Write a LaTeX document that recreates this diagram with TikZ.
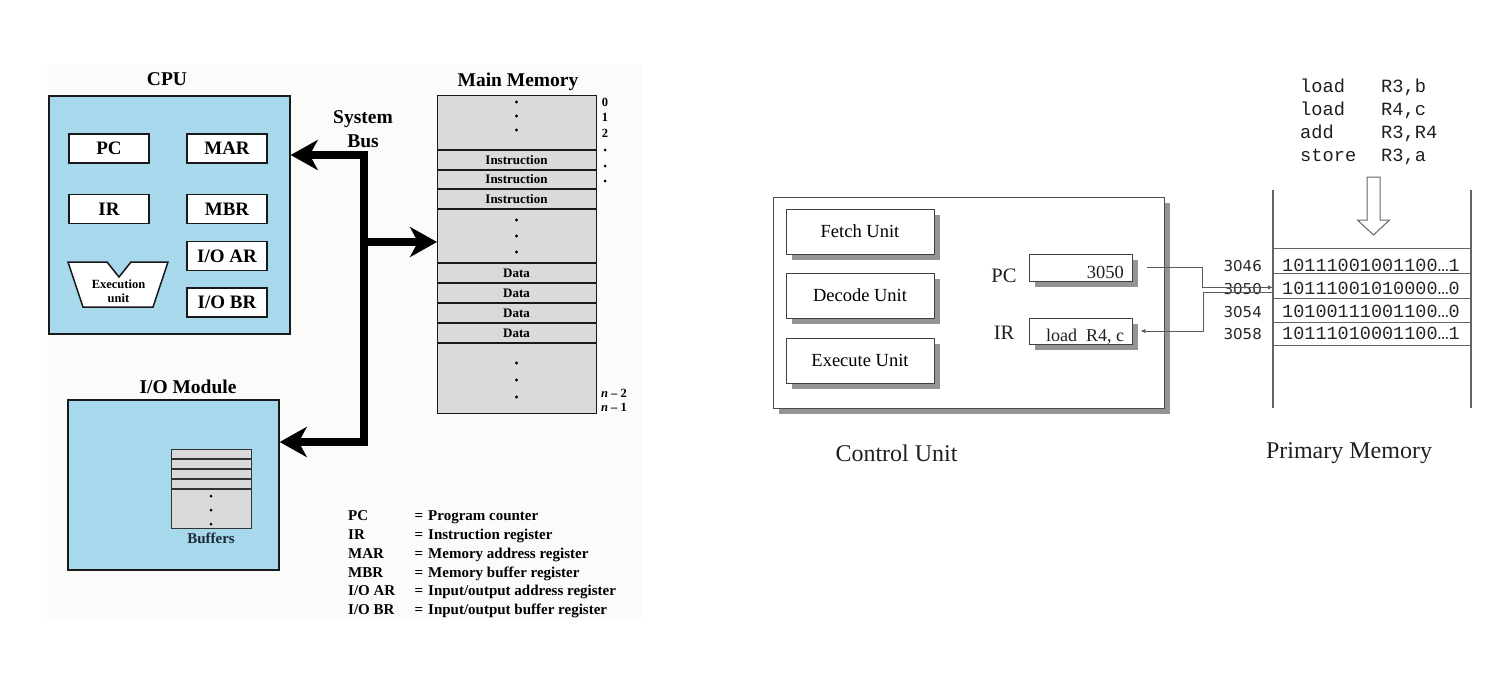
\documentclass[tikz,border=0pt]{standalone}
\usepackage{fontspec}
\setmainfont{Liberation Serif}
\newfontfamily\codefont{Liberation Mono}
\newfontfamily\addrfont{DejaVu Sans}
\usetikzlibrary{arrows.meta,shadows}
\definecolor{cpublue}{RGB}{168,216,236}
\definecolor{memgray}{RGB}{218,218,218}
\definecolor{panelbg}{RGB}{251,251,249}
\definecolor{lineg}{RGB}{100,100,100}
\definecolor{bufink}{RGB}{30,40,55}
\begin{document}
\begin{tikzpicture}[x=1pt,y=-1pt,
  title/.style={font=\fontsize{19.5}{24}\selectfont\bfseries, inner sep=0pt},
  reg/.style={draw=black!90, line width=1.3pt, fill=white, minimum width=80pt, minimum height=29pt, inner sep=0pt, font=\fontsize{19}{22}\selectfont\bfseries},
  cell/.style={font=\fontsize{13}{15}\selectfont\bfseries, inner sep=0pt},
  addr/.style={font=\fontsize{12.5}{14}\selectfont\bfseries, inner sep=0pt},
  dotf/.style={fill=black, draw=none, circle, inner sep=0pt, minimum size=3.4pt},
  bus/.style={line width=8pt, line join=miter, draw=black},
  leg/.style={font=\fontsize{15}{18}\selectfont\bfseries, inner sep=0pt, anchor=base west},
  shadowed/.style={drop shadow={shadow xshift=6pt, shadow yshift=-6pt, fill=black!42, opacity=1}},
  unitbox/.style={draw=black!75, line width=0.9pt, fill=white, minimum width=148pt, minimum height=45pt, inner sep=0pt, font=\fontsize{18.5}{22}\selectfont, shadowed},
  regbox/.style={draw=black!75, line width=0.9pt, fill=white, minimum width=103pt, inner sep=0pt, shadowed},
  rtext/.style={font=\fontsize{18.5}{22}\selectfont, inner sep=0pt, text=black!88},
  conn/.style={draw=black!65, line width=1pt},
  tipc/.style={-{Latex[length=5pt,width=4.5pt]}},
  memrow/.style={draw=lineg, line width=1.2pt, minimum width=198pt, inner sep=0pt, anchor=north west},
  bin/.style={font=\codefont\fontsize{18.5}{22}\selectfont, inner sep=0pt, anchor=base west, text=black!85},
  adr/.style={font=\addrfont\fontsize{15}{18}\selectfont, inner sep=0pt, anchor=base east, text=black!85},
  code/.style={font=\codefont\fontsize{18.7}{22}\selectfont, inner sep=0pt, anchor=base west, text=black!88}
]
\fill[white] (0,0) rectangle (1497,697);
\useasboundingbox (0,0) rectangle (1497,697);
\fill[panelbg] (47,65) rectangle (642,620);

% ---------------- CPU ----------------
\node[draw=black!90, line width=1.7pt, fill=cpublue, minimum width=241pt, minimum height=238pt, inner sep=0pt, anchor=north west] (cpu) at (48,95) {};
\node[title, anchor=base] (cpulbl) at (167,85) {CPU};
\node[reg] (pc) at (109,148.5) {PC};
\node[reg] (mar) at (227,148.5) {MAR};
\node[reg] (ir) at (109,209) {IR};
\node[reg] (mbr) at (227,209) {MBR};
\node[reg] (ioar) at (227,256) {I/O AR};
\node[reg] (iobr) at (227,302.5) {I/O BR};
\draw[draw=black!90, line width=1.5pt, fill=white, line join=miter]
  (68,262) -- (107,262) -- (119,277) -- (131,262) -- (168,262) -- (153,307) -- (83,307) -- cycle;
\node[font=\fontsize{12.5}{14}\selectfont\bfseries, inner sep=0pt, anchor=base] (exu1) at (118.5,288) {Execution};
\node[font=\fontsize{12.5}{14}\selectfont\bfseries, inner sep=0pt, anchor=base] (exu2) at (118.5,302) {unit};

% ---------------- Main memory ----------------
\node[title, anchor=base] (memlbl) at (518,86.5) {Main Memory};
\node[draw=black!90, line width=1.3pt, fill=memgray, minimum width=159pt, minimum height=318pt, inner sep=0pt, anchor=north west] (mem) at (437,95) {};
\foreach \yy in {150,170,189,209,263,283,303,323,343}
  \draw[line width=1.3pt, draw=black!90] (437,\yy) -- (596,\yy);
\node[cell] (i1) at (516.5,160) {Instruction};
\node[cell] (i2) at (516.5,179.5) {Instruction};
\node[cell] (i3) at (516.5,199) {Instruction};
\node[cell] (d1) at (516.5,273) {Data};
\node[cell] (d2) at (516.5,293) {Data};
\node[cell] (d3) at (516.5,313) {Data};
\node[cell] (d4) at (516.5,333) {Data};
\foreach \yy in {102,116,130,220,236,252,363,380,397}
  \node[dotf] at (516.5,\yy) {};
\node[addr] (a0) at (605,102) {0};
\node[addr] (a1) at (605,117) {1};
\node[addr] (a2) at (605,133) {2};
\foreach \yy in {150,166,181}
  \node[dotf, minimum size=3pt] at (605,\yy) {};
\node[addr] (an2) at (614,393) {\textit{n} – 2};
\node[addr] (an1) at (614,407.5) {\textit{n} – 1};

% ---------------- I/O module ----------------
\node[title, anchor=base] (iolbl) at (188,393) {I/O Module};
\node[draw=black!90, line width=1.7pt, fill=cpublue, minimum width=211pt, minimum height=170pt, inner sep=0pt, anchor=north west] (io) at (67,399) {};
\node[draw=black!80, line width=1.2pt, fill=memgray, minimum width=80pt, minimum height=79pt, inner sep=0pt, anchor=north west] (buf) at (171,449) {};
\foreach \yy in {459,469,479,489}
  \draw[line width=1.2pt, draw=black!80] (171,\yy) -- (251,\yy);
\foreach \yy in {496,510,524}
  \node[dotf, minimum size=3pt] at (211,\yy) {};
\node[font=\fontsize{15}{18}\selectfont\bfseries, inner sep=0pt, anchor=base, text=bufink] (buflbl) at (211,543) {Buffers};

% ---------------- System bus ----------------
\node[title, align=center] (buslbl) at (363,129) {System\\Bus};
\coordinate (bt) at (364,155);
\coordinate (bm) at (364,242);
\coordinate (bb) at (364,442);
\draw[bus, {Stealth[length=27pt,width=30pt,inset=8pt]}-{Stealth[length=27pt,width=30pt,inset=8pt]}]
  (io.east |- bb) -- (bb) -- (bt) -- (cpu.east |- bt);
\draw[bus, -{Stealth[length=27pt,width=30pt,inset=8pt]}] (bm) -- (mem.west |- bm);

% ---------------- Legend ----------------
\node[leg] (lk1) at (348,520) {PC};
\node[leg] (lk2) at (348,539) {IR};
\node[leg] (lk3) at (348,558) {MAR};
\node[leg] (lk4) at (348,577) {MBR};
\node[leg] (lk5) at (348,595.5) {I/O AR};
\node[leg] (lk6) at (348,614) {I/O BR};
\foreach \yy/\nm in {520/e1,539/e2,558/e3,577/e4,595.5/e5,614/e6}
  \node[leg, anchor=base] (\nm) at (419,\yy) {=};
\node[leg] (lv1) at (428,520) {Program counter};
\node[leg] (lv2) at (428,539) {Instruction register};
\node[leg] (lv3) at (428,558) {Memory address register};
\node[leg] (lv4) at (428,577) {Memory buffer register};
\node[leg] (lv5) at (428,595.5) {Input/output address register};
\node[leg] (lv6) at (428,614) {Input/output buffer register};

% ---------------- Control unit ----------------
\node[draw=black!70, line width=0.9pt, fill=white, minimum width=391pt, minimum height=211pt, inner sep=0pt, shadowed] (cu) at (968.5,302.5) {};
\node[unitbox] (fetch) at (860,231.5) {Fetch Unit};
\node[unitbox] (decode) at (860,295.5) {Decode Unit};
\node[unitbox] (exec) at (860,360.5) {Execute Unit};
\node[font=\fontsize{20.5}{24}\selectfont, inner sep=0pt, anchor=base, text=black!88] (pclbl) at (1004,282) {PC};
\node[font=\fontsize{20.5}{24}\selectfont, inner sep=0pt, anchor=base, text=black!88] (irlbl) at (1004,339) {IR};
\node[regbox, minimum height=27pt] (pcbox) at (1080.5,267.5) {};
\node[regbox, minimum height=26pt] (irbox) at (1080.5,331) {};
\node[rtext, anchor=base east] (pcval) at (1124,278) {3050};
\node[rtext, anchor=base, font=\fontsize{18}{22}\selectfont] (irval) at (1085,341) {load\ \ R4, c};
\node[font=\fontsize{24}{28}\selectfont, inner sep=0pt, anchor=base, text=black!88] (cutitle) at (896.5,461) {Control Unit};

% ---------------- Primary memory ----------------
\draw[draw=lineg, line width=1.2pt] (1273,190) -- (1273,408);
\draw[draw=lineg, line width=1.2pt] (1471,190) -- (1471,408);
\node[memrow, minimum height=25pt] (r3046) at (1273,248) {};
\node[memrow, minimum height=24.5pt] (r3050) at (1273,273) {};
\node[memrow, minimum height=24.5pt] (r3054) at (1273,297.5) {};
\node[memrow, minimum height=23pt] (r3058) at (1273,322) {};
\node[bin] (b3046) at (1282,271.5) {10111001001100…1};
\node[bin] (b3050) at (1282,294) {10111001010000…0};
\node[bin] (b3054) at (1282,317) {10100111001100…0};
\node[bin] (b3058) at (1282,339.5) {10111010001100…1};
\node[adr] (n3046) at (1262,271.5) {3046};
\node[adr] (n3050) at (1262,294) {3050};
\node[adr] (n3054) at (1262,317) {3054};
\node[adr] (n3058) at (1262,339.5) {3058};
\node[font=\fontsize{24}{28}\selectfont, inner sep=0pt, anchor=base, text=black!88] (pmtitle) at (1349,458) {Primary Memory};

\node[code] (c1a) at (1300,92) {load};
\node[code] (c2a) at (1300,115) {load};
\node[code] (c3a) at (1300,138) {add};
\node[code] (c4a) at (1300,161.5) {store};
\node[code] (c1b) at (1381,92) {R3,b};
\node[code] (c2b) at (1381,115) {R4,c};
\node[code] (c3b) at (1381,138) {R3,R4};
\node[code] (c4b) at (1381,161.5) {R3,a};
\draw[draw=black!60, line width=1pt, fill=white, line join=miter]
  (1367,177) -- (1380,177) -- (1380,220) -- (1389.5,220) -- (1373.5,235) -- (1357.5,220) -- (1367,220) -- cycle;

% ---------------- Connectors ----------------
\coordinate (j1) at (1202,267.5);
\coordinate (j2) at (1203,331);
\draw[conn, tipc] ([xshift=15pt]pcbox.east) -- (j1) |- ([yshift=-1.5pt]r3050.west);
\draw[conn, tipc] ([yshift=-7pt]r3050.west) -| (j2) -- ([xshift=8pt]irbox.east);
\end{tikzpicture}
\end{document}
